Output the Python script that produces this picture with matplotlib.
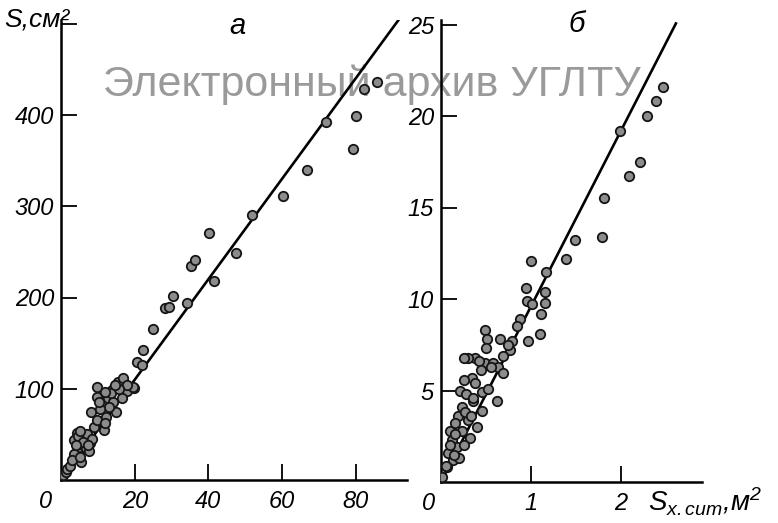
import matplotlib
matplotlib.use("Agg")
import matplotlib.pyplot as plt
import numpy as np

plt.rcParams['font.family'] = ['Liberation Sans', 'DejaVu Sans']
plt.rcParams['mathtext.fontset'] = 'custom'
plt.rcParams['mathtext.it'] = 'Liberation Sans:italic'
plt.rcParams['mathtext.rm'] = 'Liberation Sans:italic'

# Panel а: S, cm^2 against summed crown area
a_x = [0.5, 1.4, 1.6, 2.5, 3.6, 4.1, 4.9, 5.5, 4.4, 6.3, 7.7, 9.0, 11.5, 8.2,
       9.6, 12.3, 15.0, 11.2, 9.8, 12.6, 17.8, 9.8, 13.9, 19.9, 15.3, 16.7,
       19.4, 22.1, 20.5, 21.9, 24.9, 28.1, 29.2, 30.3, 34.2, 35.2, 36.3, 40.2,
       41.5, 47.5, 51.9, 60.4, 66.9, 71.9, 79.2, 80.0, 82.2, 85.8,
       5.5, 7.0, 3.5, 6.8, 8.5, 14.0, 16.5, 13.0, 18.0, 3.0, 5.0, 7.5,
       4.5, 6.0, 7.2, 3.9, 5.2, 10.5, 11.8, 13.5, 15.8, 10.2, 12.0, 14.6]
a_y = [5, 9, 12, 15, 44, 30, 36, 20, 52, 47, 41, 58, 55, 74,
       66, 69, 75, 82, 91, 90, 97, 102, 99, 101, 107, 112,
       102, 142, 129, 126, 165, 189, 190, 202, 194, 234, 241, 271,
       218, 249, 290, 311, 340, 392, 363, 399, 428, 436,
       40, 50, 28, 35, 45, 85, 90, 80, 104, 22, 25, 32,
       48, 42, 38, 38, 54, 78, 62, 95, 100, 86, 96, 104]
a_line_x = [0, 92]
a_slope = 5.5

# Panel б
b_x = [2.47, 2.39, 2.29, 1.99, 2.21, 2.09, 1.81, 1.79, 1.49, 1.39,
       1.00, 1.17, 0.94, 1.16, 0.96, 1.01, 1.16, 1.11, 0.88, 1.10, 0.97,
       0.66, 0.49, 0.51, 0.50, 0.79, 0.77, 0.38, 0.74, 0.69,
       0.30, 0.49, 0.58, 0.63, 0.69, 0.34, 0.38, 0.21, 0.46, 0.62, 0.36,
       0.23, 0.46, 0.19, 0.30, 0.10, 0.23, 0.12, 0.18, 0.08, 0.13, 0.07,
       0.01, 0.25, 0.42, 0.28, 0.40, 0.15, 0.32, 0.25, 0.20, 0.10, 0.52,
       0.16, 0.27, 0.35, 0.44, 0.55, 0.05, 0.14, 0.33, 0.26, 0.84]
b_y = [21.6, 20.8, 20.0, 19.2, 17.5, 16.7, 15.5, 13.4, 13.2, 12.2,
       12.1, 11.5, 10.6, 10.4, 9.9, 9.7, 9.8, 9.2, 8.9, 8.1, 7.7,
       7.8, 8.3, 7.8, 7.3, 7.7, 7.2, 6.8, 7.5, 6.9,
       6.8, 6.5, 6.5, 6.3, 5.96, 5.7, 5.4, 5.0, 4.9, 4.4, 4.4,
       4.1, 3.9, 3.6, 3.4, 2.8, 2.8, 2.3, 1.9, 1.6, 1.2, 0.8,
       0.3, 6.8, 6.6, 4.8, 3.0, 3.2, 2.4, 2.0, 1.3, 2.0, 5.1,
       2.6, 3.8, 4.6, 6.1, 6.3, 0.9, 1.5, 3.6, 5.6, 8.5]
b_line_x = [0, 2.61]
b_slope = 9.6

a_xticks = [20, 40, 60, 80]
a_yticks = [100, 200, 300, 400, 500]
a_yticklabels = ['100', '200', '300', '400', '']
b_xticks = [1, 2]
b_yticks = [5, 10, 15, 20, 25]

W, H = 778, 523
fig = plt.figure(figsize=(W / 100, H / 100), dpi=100)

ax1 = fig.add_axes([61.2 / W, 1 - 480 / H, (407 - 61.2) / W, (480 - 20) / H])
ax2 = fig.add_axes([441 / W, 1 - 482 / H, (702 - 441) / W, (482 - 20) / H])
ax1.set_xlim(0, (407 - 61.2) / 3.68)
ax1.set_ylim(0, (480 - 20) / 0.9125)
ax2.set_xlim(0, (702 - 441) / 90)
ax2.set_ylim(0, (482 - 20) / 18.3)

marker_kw = dict(s=46, facecolor='#8c8c8c', edgecolor='#151515', linewidths=1.3, zorder=3)
tick_font = dict(family='Liberation Sans', style='italic', size=17)

for ax in (ax1, ax2):
    ax.patch.set_alpha(0)
    for s in ('top', 'right'):
        ax.spines[s].set_visible(False)
    for s in ('left', 'bottom'):
        ax.spines[s].set_linewidth(1.8)
        ax.spines[s].set_color('black')
    ax.tick_params(direction='in', length=11.5, width=1.3, color='black')
    ax.tick_params(axis='x', pad=7)
    ax.tick_params(axis='y', pad=5)

ax1.scatter(a_x, a_y, **marker_kw)
xs = np.array(a_line_x)
ax1.plot(xs, a_slope * xs, color='black', lw=1.9, zorder=2)
ax1.set_xticks(a_xticks)
ax1.set_xticklabels([str(v) for v in a_xticks], fontdict=tick_font)
ax1.set_yticks(a_yticks)
ax1.set_yticklabels(a_yticklabels, fontdict=tick_font)

ax2.scatter(b_x, b_y, **marker_kw)
xs = np.array(b_line_x)
ax2.plot(xs, b_slope * xs, color='black', lw=1.9, zorder=2)
ax2.set_xticks(b_xticks)
ax2.set_xticklabels([str(v) for v in b_xticks], fontdict=tick_font)
ax2.set_yticks(b_yticks)
ax2.set_yticklabels([str(v) for v in b_yticks], fontdict=tick_font)

# origin labels
for ax, dx in ((ax1, -11), (ax2, -9)):
    ax.annotate('0', xy=(0, 0), xycoords='axes fraction', xytext=(dx, -7),
                textcoords='offset points', ha='center', va='top', **tick_font)

# panel letters and axis titles
fig.text(237 / W, 1 - 26 / H, 'а', ha='center', va='center',
         family='Liberation Sans', style='italic', size=21)
fig.text(577 / W, 1 - 24 / H, 'б', ha='center', va='center',
         family='Liberation Sans', style='italic', size=21)
fig.text(4 / W, 1 - 20 / H, 'S,см²', ha='left', va='center',
         family='Liberation Sans', style='italic', size=19)
fig.text(648 / W, 1 - 512 / H, '$S_{x.cum}$,м$^2$', ha='left', va='baseline',
         family='Liberation Sans', style='italic', size=20)

# archive watermark
fig.text(372 / W, 1 - 96 / H, 'Электронный архив УГЛТУ', ha='center',
         va='baseline', color='#9a9a9a', family='Liberation Sans', size=31,
         zorder=-1)

fig.savefig('out.png', dpi=100)
